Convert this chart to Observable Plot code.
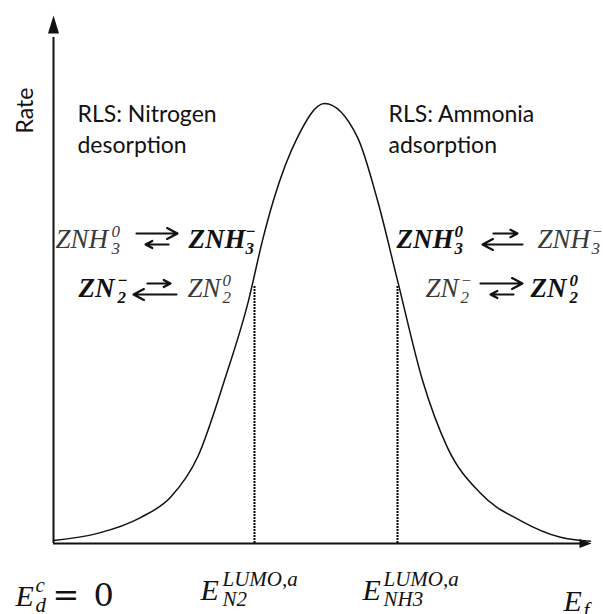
<!DOCTYPE html>
<html><head><meta charset="utf-8">
<script src="https://cdn.jsdelivr.net/npm/d3@7"></script>
<script src="https://cdn.jsdelivr.net/npm/@observablehq/plot@0.6"></script>
<style>body{margin:0;background:#fff} #chart svg{display:block}</style>
</head><body><div id="chart"></div>
<script>
// Volcano-type rate curve (arbitrary units): Fermi level E_f vs rate
const ef   = [0, 0.818, 1.617, 2.175, 2.677, 3.178, 3.625, 3.885, 4.089, 4.535, 5.037, 5.651, 6.022, 6.394, 6.859, 7.323, 7.937, 8.680, 9.424, 9.981];
const rate = [0.007, 0.023, 0.059, 0.105, 0.196, 0.371, 0.552, 0.689, 0.780, 0.923, 1.000, 0.923, 0.780, 0.598, 0.371, 0.218, 0.114, 0.052, 0.014, 0.005];

// LUMO levels (dotted lines)
const lumoEf   = [3.736, 6.394];
const lumoRate = [0.586, 0.586];

// Rate-limiting-step labels
const rlsLabels = ["RLS: Nitrogen\ndesorption", "RLS: Ammonia\nadsorption"];
const rlsEf     = [0.446, 6.227];
const rlsRate   = [0.8886, 0.8886];

// Axis title
const yTitle = [{text: "Rate", ef: -0.372, rate: 1.036}];

// Equilibrium equations
const eqLineRate = [0.6727, 0.5591];
const species = [
  {base: "ZNH", sup: "0", sub: "3", ef: 0.037, efScript: 1.078, line: 0, favored: false},
  {base: "ZNH", sup: "\u2212", sub: "3", ef: 2.509, efScript: 3.570, line: 0, favored: true},
  {base: "ZN",  sup: "\u2212", sub: "2", ef: 0.465, efScript: 1.190, line: 1, favored: true},
  {base: "ZN",  sup: "0", sub: "2", ef: 2.491, efScript: 3.141, line: 1, favored: false},
  {base: "ZNH", sup: "0", sub: "3", ef: 6.375, efScript: 7.455, line: 0, favored: true},
  {base: "ZNH", sup: "\u2212", sub: "3", ef: 8.996, efScript: 10.0, line: 0, favored: false},
  {base: "ZN",  sup: "\u2212", sub: "2", ef: 6.914, efScript: 7.565, line: 1, favored: false},
  {base: "ZN",  sup: "0", sub: "2", ef: 8.866, efScript: 9.590, line: 1, favored: true}
];
const eqArrows = [
  {from: 1.543, to: 2.305, line: 0, upper: true},
  {from: 2.138, to: 1.710, line: 0, upper: false},
  {from: 1.747, to: 2.175, line: 1, upper: true},
  {from: 2.286, to: 1.487, line: 1, upper: false},
  {from: 8.178, to: 8.625, line: 0, upper: true},
  {from: 8.717, to: 7.974, line: 0, upper: false},
  {from: 7.937, to: 8.717, line: 1, upper: true},
  {from: 8.550, to: 8.123, line: 1, upper: false}
];

// Energy labels below the axis
const energyLabels = [
  {main: "E", sup: "c", sub: "d", ef: -0.706, efScript: -0.335, rate: -0.1410},
  {main: "E", sup: "LUMO,a", sub: "N2", ef: 2.732, efScript: 3.141, rate: -0.1295},
  {main: "E", sup: "LUMO,a", sub: "NH3", ef: 5.743, efScript: 6.134, rate: -0.1295},
  {main: "E", sup: "", sub: "f", ef: 9.480, efScript: 9.851, rate: -0.1545}
];
const zeroLabel = [{text: "=", ef: -0.02, rate: -0.1410}, {text: "0", ef: 0.743, rate: -0.1410}];

// ---------------------------------------------------------------
const curve = ef.map((e, i) => ({ef: e, rate: rate[i]}));
const lumo = lumoEf.map((e, i) => ({ef: e, rate: lumoRate[i]}));
const rls = rlsLabels.map((t, i) => ({text: t, ef: rlsEf[i], rate: rlsRate[i]}));
const spY = d => eqLineRate[d.line];

const upHead = {draw(c) { c.moveTo(0, 0); c.lineTo(5.5, 18); c.lineTo(-5.5, 18); c.closePath(); }};
const rightHead = {draw(c) { c.moveTo(0, 0); c.lineTo(-12, -4.5); c.lineTo(-12, 4.5); c.closePath(); }};

const mathFont = "Liberation Serif";
const sansFont = "Lato";
const regColor = "#3a3a3a", boldColor = "#111";

function speciesMarks(favored) {
  const data = species.filter(d => d.favored === favored);
  const common = {y: spY, textAnchor: "start", lineAnchor: "bottom", fontFamily: mathFont,
    fontStyle: "italic", fontWeight: favored ? "bold" : "normal", fill: favored ? boldColor : regColor};
  return [
    Plot.text(data, {...common, x: "ef", text: "base", fontSize: 27}),
    Plot.text(data, {...common, x: "efScript", text: "sup", fontSize: 17, dy: -11}),
    Plot.text(data, {...common, x: "efScript", text: "sub", fontSize: 17, dy: 6})
  ];
}

const arrowOpts = {x1: "from", x2: "to", y1: spY, y2: spY, stroke: "#111", strokeWidth: 2.2, headLength: 8, headAngle: 55};

const energyCommon = {y: "rate", textAnchor: "start", lineAnchor: "bottom", fontFamily: mathFont, fontStyle: "italic", fill: "#111"};

const chart = Plot.plot({
  width: 603, height: 614,
  marginLeft: 53, marginRight: 12, marginTop: 15, marginBottom: 71,
  x: {domain: [0, 10], axis: null},
  y: {domain: [0, 1.2], axis: null},
  style: {background: "white", overflow: "visible"},
  marks: [
    // axes with arrowheads
    Plot.ruleX([0], {y1: 0, y2: 1.15, stroke: "#111", strokeWidth: 2}),
    Plot.ruleY([0], {x1: 0, x2: 9.9, stroke: "#111", strokeWidth: 2}),
    Plot.dot([{ef: 0, rate: 1.2}], {x: "ef", y: "rate", symbol: upHead, fill: "#111", stroke: "none"}),
    Plot.dot([{ef: 10, rate: 0}], {x: "ef", y: "rate", symbol: rightHead, fill: "#111", stroke: "none"}),
    // LUMO dotted lines
    Plot.ruleX(lumo, {x: "ef", y1: 0, y2: "rate", stroke: "#000", strokeWidth: 2, strokeDasharray: "2,1"}),
    // curve
    Plot.line(curve, {x: "ef", y: "rate", curve: "monotone-x", stroke: "#111", strokeWidth: 1.5}),
    // labels
    Plot.text(yTitle, {x: "ef", y: "rate", text: "text", rotate: -90, textAnchor: "end", lineAnchor: "bottom",
      fontFamily: sansFont, fontSize: 23, fill: "#111"}),
    Plot.text(rls, {x: "ef", y: "rate", text: "text", textAnchor: "start", lineAnchor: "bottom",
      fontFamily: sansFont, fontSize: 23, lineHeight: 1.32, fill: "#111"}),
    ...speciesMarks(false),
    ...speciesMarks(true),
    Plot.arrow(eqArrows.filter(d => d.upper), {...arrowOpts, dy: -14}),
    Plot.arrow(eqArrows.filter(d => !d.upper), {...arrowOpts, dy: -3}),
    Plot.text(energyLabels, {...energyCommon, x: "ef", text: "main", fontSize: 30}),
    Plot.text(energyLabels, {...energyCommon, x: "efScript", text: "sup", fontSize: 21, dy: -14}),
    Plot.text(energyLabels, {...energyCommon, x: "efScript", text: "sub", fontSize: 21, dy: 6}),
    Plot.text(zeroLabel, {...energyCommon, x: "ef", text: "text", fontStyle: "normal", fontFamily: "DejaVu Serif", fontSize: 32})
  ]
});
document.getElementById("chart").append(chart);
</script>
</body></html>
